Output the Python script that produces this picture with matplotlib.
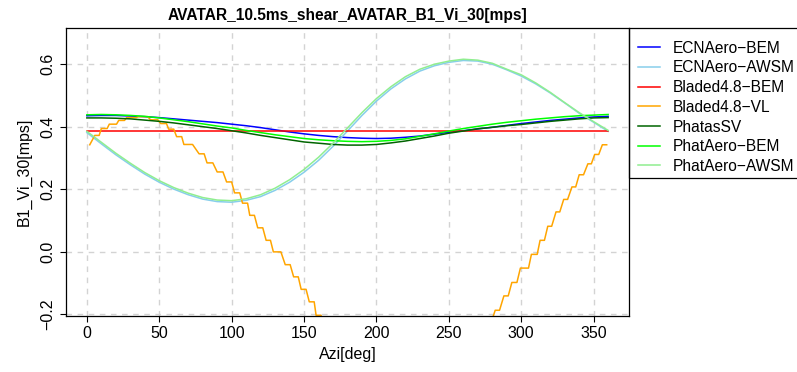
import numpy as np
import matplotlib.pyplot as plt
from matplotlib.patches import Rectangle

plt.rcParams['font.family'] = ['Liberation Sans', 'DejaVu Sans']

# azimuth grid for the smooth curves (deg)
azi = list(range(0, 361, 10))

ecn_bem = [0.435, 0.436, 0.436, 0.434, 0.432, 0.429, 0.425, 0.421, 0.417, 0.413,
           0.408, 0.403, 0.397, 0.390, 0.383, 0.377, 0.372, 0.368, 0.365, 0.363,
           0.362, 0.363, 0.366, 0.370, 0.376, 0.382, 0.387, 0.393, 0.398, 0.404,
           0.410, 0.415, 0.420, 0.424, 0.428, 0.431, 0.433]
ecn_awsm = [0.381, 0.345, 0.310, 0.278, 0.248, 0.222, 0.200, 0.182, 0.168, 0.160,
            0.158, 0.164, 0.176, 0.196, 0.222, 0.254, 0.292, 0.337, 0.386, 0.436,
            0.482, 0.521, 0.553, 0.578, 0.595, 0.606, 0.612, 0.610, 0.600, 0.582,
            0.562, 0.537, 0.508, 0.476, 0.443, 0.414, 0.385]
bladed_bem = [0.385] * len(azi)
phatas_sv = [0.428, 0.428, 0.427, 0.425, 0.421, 0.417, 0.412, 0.406, 0.400, 0.394,
             0.387, 0.380, 0.372, 0.365, 0.358, 0.351, 0.347, 0.343, 0.341, 0.341,
             0.343, 0.348, 0.354, 0.362, 0.370, 0.379, 0.386, 0.393, 0.398, 0.403,
             0.407, 0.412, 0.417, 0.421, 0.425, 0.428, 0.429]
phat_bem = [0.438, 0.439, 0.438, 0.436, 0.433, 0.428, 0.422, 0.416, 0.409, 0.402,
            0.396, 0.388, 0.381, 0.374, 0.368, 0.362, 0.358, 0.355, 0.353, 0.352,
            0.353, 0.356, 0.361, 0.369, 0.377, 0.386, 0.394, 0.401, 0.408, 0.414,
            0.419, 0.424, 0.428, 0.432, 0.435, 0.437, 0.439]
phat_awsm = [0.385, 0.350, 0.315, 0.283, 0.253, 0.227, 0.205, 0.187, 0.173, 0.165,
             0.163, 0.169, 0.182, 0.203, 0.230, 0.263, 0.302, 0.347, 0.396, 0.445,
             0.490, 0.528, 0.560, 0.584, 0.600, 0.610, 0.616, 0.613, 0.603, 0.584,
             0.566, 0.540, 0.510, 0.477, 0.445, 0.416, 0.388]

# Bladed VL is a staircase: plateau start, plateau end, value
vl_start = [2, 5.5, 10, 15.5, 22, 27.5, 35.5, 44, 51, 56.5, 62, 67, 77.5, 83, 90, 96.5,
            102, 107.5, 112.5, 118, 123.8, 128.8, 137, 142.8, 148, 153.6, 158.3, 164, 222,
            279, 282, 288, 293.5, 299.4, 307, 313, 318.3, 324, 329.3, 335, 340, 346,
            350.7, 356]
vl_end = [2, 8.5, 14, 20.5, 26, 34, 42, 49, 55, 60, 65.5, 73, 81, 87, 94, 100,
          105.6, 111, 115.7, 121.5, 126.8, 134, 140.4, 146, 151.4, 157, 161.7, 167.5, 222,
          279, 285, 291, 297, 305, 311, 316, 321, 326.6, 332, 337.6, 343, 348.4,
          353.5, 359]
vl_val = [0.342, 0.372, 0.394, 0.408, 0.420, 0.429, 0.432, 0.422, 0.410, 0.392, 0.368,
          0.343, 0.313, 0.284, 0.255, 0.223, 0.188, 0.155, 0.116, 0.076, 0.036, -0.001,
          -0.042, -0.081, -0.121, -0.161, -0.204, -0.245, -0.600, -0.230, -0.188, -0.142,
          -0.099, -0.053, -0.009, 0.036, 0.081, 0.127, 0.167, 0.207, 0.246, 0.281,
          0.311, 0.342]

vl_x = []
vl_y = []
for s, e, v in zip(vl_start, vl_end, vl_val):
    vl_x += [s, e]
    vl_y += [v, v]

names = ['ECNAero\u2212BEM', 'ECNAero\u2212AWSM', 'Bladed4.8\u2212BEM', 'Bladed4.8\u2212VL',
         'PhatasSV', 'PhatAero\u2212BEM', 'PhatAero\u2212AWSM']
colors = ['#0000ff', '#87ceeb', '#ff0000', '#ffa500', '#006400', '#00ff00', '#90ee90']

fig = plt.figure(figsize=(7.97, 3.72), dpi=100)
ax = fig.add_axes([66 / 797, 1 - 316 / 372, (629 - 66) / 797, (316 - 28) / 372])

series = [(azi, ecn_bem), (azi, ecn_awsm), (azi, bladed_bem), (vl_x, vl_y),
          (azi, phatas_sv), (azi, phat_bem), (azi, phat_awsm)]
for (x, y), name, c in zip(series, names, colors):
    ax.plot(x, y, color=c, lw=1.1, label=name)

ax.set_xlim(-14.4, 374.4)
ax.set_ylim(-0.2064, 0.716)
ax.set_xticks(np.arange(0, 351, 50))
ax.set_yticks([-0.2, 0.0, 0.2, 0.4, 0.6])
ax.set_yticklabels(['\u22120.2', '0.0', '0.2', '0.4', '0.6'], rotation=90, va='center')
ax.tick_params(direction='out', length=4.5, width=0.8, labelsize=11.5, pad=3)
ax.grid(True, color='#d3d3d3', linestyle=(0, (4, 4)), linewidth=1)
for sp in ax.spines.values():
    sp.set_linewidth(0.9)

ax.set_xlabel('Azi[deg]', fontsize=11.5, labelpad=4)
ax.set_ylabel('B1_Vi_30[mps]', fontsize=11.5, labelpad=6)
ax.set_title('AVATAR_10.5ms_shear_AVATAR_B1_Vi_30[mps]', fontsize=11.2,
             fontweight='bold', pad=6)

# legend sits right of the plot, its box runs off the right edge of the figure
leg = ax.legend(loc='upper left', bbox_to_anchor=(1.0, 1 - 3.5 / 288), fontsize=11.2,
                frameon=False, handlelength=1.4, handletextpad=0.8,
                labelspacing=0.3, borderpad=0.6, borderaxespad=0)
box = Rectangle((629 / 797, 1 - 178 / 372), 0.4, 150 / 372, transform=fig.transFigure,
                fill=False, edgecolor='black', linewidth=0.9)
fig.add_artist(box)

plt.savefig('out.png', dpi=100)
